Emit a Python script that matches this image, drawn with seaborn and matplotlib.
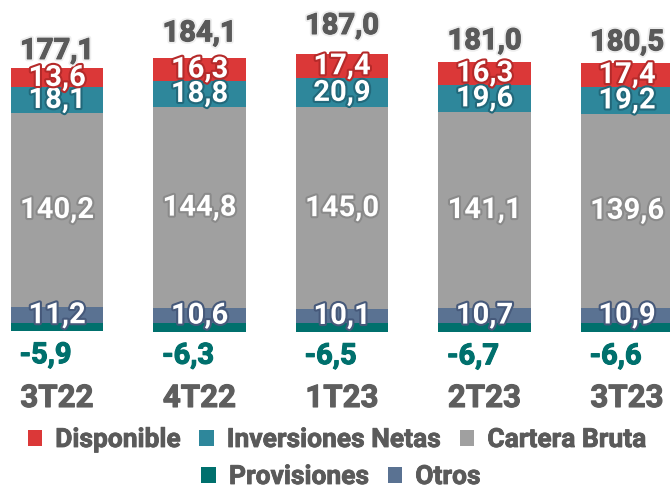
import matplotlib
matplotlib.use("Agg")
import matplotlib.pyplot as plt
import matplotlib.patheffects as pe
from matplotlib.patches import Patch
import seaborn as sns
import numpy as np

categories = ["3T22", "4T22", "1T23", "2T23", "3T23"]
disponible = [13.6, 16.3, 17.4, 16.3, 17.4]
inversiones = [18.1, 18.8, 20.9, 19.6, 19.2]
cartera = [140.2, 144.8, 145.0, 141.1, 139.6]
otros = [11.2, 10.6, 10.1, 10.7, 10.9]
provisiones = [-5.9, -6.3, -6.5, -6.7, -6.6]
totales = [177.1, 184.1, 187.0, 181.0, 180.5]

colors = {
    "Disponible": "#DB3838",
    "Inversiones Netas": "#2E879B",
    "Cartera Bruta": "#A0A0A0",
    "Provisiones": "#00706D",
    "Otros": "#5A7292",
}
strokes = {
    "Disponible": "#B52A2A",
    "Inversiones Netas": "#22687A",
    "Cartera Bruta": "#8A8A8A",
    "Otros": "#46597A",
}

sns.set_theme(style="white")
plt.rcParams["font.family"] = ["Roboto", "DejaVu Sans"]
WEIGHT = "bold"
plt.rcParams["font.weight"] = WEIGHT

fig = plt.figure(figsize=(6.7, 4.88), dpi=100)
ax = fig.add_axes([0, 0, 1, 1])

cum1 = np.array(otros)
cum2 = cum1 + np.array(cartera)
cum3 = cum2 + np.array(inversiones)
cum4 = cum3 + np.array(disponible)

W = 0.65
for vals, name in [(cum4, "Disponible"), (cum3, "Inversiones Netas"),
                   (cum2, "Cartera Bruta"), (cum1, "Otros"),
                   (np.array(provisiones), "Provisiones")]:
    sns.barplot(x=categories, y=vals, order=categories, color=colors[name],
                saturation=1, width=W, ax=ax, linewidth=0, edgecolor="none")

scale = 1.39
ax.set_ylim((323 - 488) / scale, 323 / scale)
ax.set_xlim(-0.4, 4.302)
ax.axis("off")

fs = 21
def seg_label(x, y, v, name):
    ax.text(x, y, f"{v:.1f}".replace(".", ","), ha="center", va="center",
            fontsize=fs, fontweight=WEIGHT, color="white",
            path_effects=[pe.withStroke(linewidth=3, foreground=strokes[name])],
            zorder=5)

for i in range(len(categories)):
    seg_label(i, otros[i] / 2, otros[i], "Otros")
    seg_label(i, cum1[i] + cartera[i] / 2, cartera[i], "Cartera Bruta")
    seg_label(i, cum2[i] + inversiones[i] / 2, inversiones[i], "Inversiones Netas")
    seg_label(i, cum3[i] + disponible[i] / 2, disponible[i], "Disponible")
    ax.text(i - 0.08, provisiones[i] - 24 / scale, f"{provisiones[i]:.1f}".replace(".", ","),
            ha="center", va="center", fontsize=fs, fontweight=WEIGHT,
            color=colors["Provisiones"],
            path_effects=[pe.withStroke(linewidth=3.5, foreground="white"),
                          pe.withStroke(linewidth=0.8, foreground=colors["Provisiones"])],
            zorder=5)
    ax.text(i, (323 - 398) / scale, categories[i], ha="center", va="center",
            fontsize=22.5, fontweight=WEIGHT, color="#5E5E5E", zorder=5,
            path_effects=[pe.withStroke(linewidth=0.8, foreground="#5E5E5E")])

ax2 = ax.twinx()
ax2.set_position([0, 0, 1, 1])
ax2.set_ylim(3.7, 197.3)
ax2.set_xlim(-0.4, 4.302)
ax2.axis("off")
for i, t in enumerate(totales):
    ax2.text(i, t, f"{t:.1f}".replace(".", ","), ha="center", va="center",
             fontsize=fs, fontweight=WEIGHT, color="#5A5A5A",
             path_effects=[pe.withStroke(linewidth=3.5, foreground="#EEEEEE"),
                           pe.withStroke(linewidth=0.8, foreground="#5A5A5A")],
             zorder=5)

def handles(names):
    return [Patch(facecolor=colors[n], edgecolor="none", label=n) for n in names]

leg_kw = dict(frameon=False, handlelength=0.55, handleheight=0.55,
              handletextpad=0.5, columnspacing=0.7, borderaxespad=0,
              prop={"family": "Roboto", "weight": WEIGHT, "size": 19})
row1 = ["Disponible", "Inversiones Netas", "Cartera Bruta"]
row2 = ["Provisiones", "Otros"]
l1 = fig.legend(handles=handles(row1), loc="center", ncol=3,
                bbox_to_anchor=(0.503, 1 - 440 / 488), **leg_kw)
l2 = fig.legend(handles=handles(row2), loc="center", ncol=2,
                bbox_to_anchor=(0.509, 1 - 477 / 488), **leg_kw)
for l in (l1, l2):
    for t in l.get_texts():
        t.set_color("#5A5A5A")
        t.set_path_effects([pe.withStroke(linewidth=0.6, foreground="#5A5A5A")])

fig.savefig("out.png", dpi=100)
